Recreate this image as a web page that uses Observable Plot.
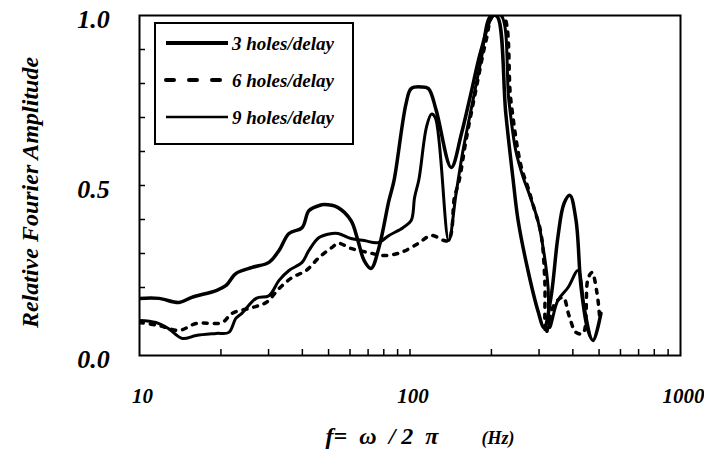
<!DOCTYPE html>
<html><head><meta charset="utf-8">
<script src="https://cdn.jsdelivr.net/npm/d3@7"></script>
<script src="https://cdn.jsdelivr.net/npm/@observablehq/plot@0.6"></script>
<style>body{margin:0;background:#fff}</style>
</head><body><div id="chart"></div>
<script>
// Series: 3 holes/delay
const freq3 = [10, 11.8, 14.0, 15.6, 19.2, 20.9, 22.7, 26.1, 30.1, 32.8, 35.7, 39.9, 42.3, 46.1, 48.1, 54.2, 60.5, 64.2, 67.7, 71.8, 76.8, 83.6, 87.3, 96.7, 101, 110, 117, 125, 142, 155, 168, 183, 203, 211, 226, 240, 251, 273, 297, 313, 332, 352, 371, 390, 411, 429, 455, 475, 508];
const amp3 = [0.168, 0.168, 0.156, 0.171, 0.191, 0.206, 0.241, 0.259, 0.274, 0.309, 0.359, 0.376, 0.426, 0.441, 0.444, 0.435, 0.397, 0.338, 0.279, 0.256, 0.318, 0.456, 0.515, 0.741, 0.785, 0.79, 0.785, 0.721, 0.553, 0.653, 0.771, 0.897, 1.0, 0.995, 0.712, 0.524, 0.397, 0.25, 0.132, 0.082, 0.171, 0.347, 0.447, 0.471, 0.397, 0.2, 0.074, 0.044, 0.124];
// Series: 6 holes/delay
const freq6 = [10, 11.8, 14.0, 16.2, 20.2, 22.0, 26.1, 29.4, 32.8, 36.6, 41.3, 46.1, 51.5, 54.2, 60.5, 70.0, 80.1, 92.6, 107, 120, 138, 146, 152, 161, 175, 191, 203, 221, 236, 257, 273, 287, 305, 315, 318, 340, 368, 387, 411, 436, 455, 471, 491, 503];
const amp6 = [0.097, 0.088, 0.074, 0.094, 0.097, 0.124, 0.141, 0.156, 0.197, 0.229, 0.25, 0.288, 0.318, 0.33, 0.315, 0.303, 0.294, 0.303, 0.329, 0.353, 0.338, 0.465, 0.515, 0.632, 0.779, 0.926, 1.0, 1.0, 0.75, 0.559, 0.494, 0.435, 0.359, 0.221, 0.065, 0.147, 0.171, 0.118, 0.068, 0.065, 0.226, 0.244, 0.185, 0.109];
// Series: 9 holes/delay
const freq9 = [10, 11.5, 12.8, 14.4, 16.2, 19.2, 21.4, 22.7, 23.9, 27.0, 30.1, 32.8, 35.7, 39.9, 42.3, 46.1, 51.5, 54.2, 60.5, 67.7, 76.2, 83.6, 94.2, 101, 104, 108, 115, 120, 124, 139, 148, 157, 168, 183, 199, 217, 232, 246, 262, 273, 297, 313, 324, 328, 352, 384, 418, 439, 462];
const amp9 = [0.103, 0.097, 0.079, 0.05, 0.059, 0.065, 0.068, 0.109, 0.124, 0.168, 0.176, 0.221, 0.25, 0.274, 0.309, 0.347, 0.359, 0.359, 0.344, 0.338, 0.332, 0.353, 0.376, 0.397, 0.465, 0.52, 0.671, 0.71, 0.70, 0.338, 0.476, 0.603, 0.721, 0.868, 1.0, 1.0, 0.75, 0.603, 0.524, 0.485, 0.397, 0.3, 0.2, 0.082, 0.162, 0.2, 0.25, 0.15, 0.06];

const seriesNames = ["3 holes/delay", "6 holes/delay", "9 holes/delay"];
const xTickLabels = [10, 100, 1000];
const xMinorTicks = [20, 30, 40, 50, 60, 70, 80, 90, 100, 200, 300, 400, 500, 600, 700, 800, 900];
const yTickLabels = [0, 0.5, 1.0];
const yMinorTicks = [0.1, 0.2, 0.3, 0.4, 0.5, 0.6, 0.7, 0.8, 0.9];
const xTitle = "f=\u00a0 \u03c9 \u00a0/ 2 \u00a0\u03c0";
const xUnit = "(Hz)";
const yTitle = "Relative Fourier Amplitude";

const toRows = (f, a) => f.map((x, i) => ({f: x, a: a[i]}));
const d3rows = toRows(freq3, amp3);
const d6rows = toRows(freq6, amp6);
const d9rows = toRows(freq9, amp9);

const font = "'Liberation Serif','Times New Roman',serif";

const chart = Plot.plot({
  width: 704, height: 468,
  marginLeft: 139, marginRight: 24, marginTop: 15, marginBottom: 113,
  x: {type: "log", domain: [10, 1000]},
  y: {domain: [0, 1]},
  style: {fontFamily: font, fontWeight: "bold", fontStyle: "italic", background: "white", color: "black"},
  marks: [
    Plot.axisX(xMinorTicks, {anchor: "bottom", tickSize: -6, tickFormat: () => "", label: null, strokeWidth: 1.5}),
    Plot.axisY(yMinorTicks, {anchor: "left", tickSize: -6, tickFormat: () => "", label: null, strokeWidth: 1.5}),
    Plot.line(d3rows, {x: "f", y: "a", stroke: "black", strokeWidth: 3.5, curve: "catmull-rom", clip: "frame"}),
    Plot.line(d9rows, {x: "f", y: "a", stroke: "black", strokeWidth: 3, curve: "catmull-rom", clip: "frame"}),
    Plot.line(d6rows, {x: "f", y: "a", stroke: "black", strokeWidth: 3.5, strokeDasharray: "4,7", strokeLinecap: "round", curve: "catmull-rom", clip: "frame"}),
    Plot.frame({stroke: "black", strokeWidth: 2}),
    Plot.text(xTickLabels, {x: d => d, text: d => String(d), frameAnchor: "bottom", textAnchor: "middle", dy: 47, dx: 3, fontSize: 21}),
    Plot.text(yTickLabels, {y: d => d, text: d => d.toFixed(1), frameAnchor: "left", dx: -46, dy: 4, textAnchor: "middle", fontSize: 26}),
    Plot.text([yTitle], {text: d => d, frameAnchor: "left", textAnchor: "middle", dx: -109, dy: 7, rotate: -90, fontSize: 24}),
    Plot.text([xTitle], {text: d => d, frameAnchor: "bottom", textAnchor: "middle", dx: -28, dy: 88, fontSize: 24}),
    Plot.text([xUnit], {text: d => d, frameAnchor: "bottom", textAnchor: "middle", dx: 88, dy: 88, fontSize: 18})
  ]
});

// In-plot legend box
const svg = d3.select(chart);
const lg = svg.append("g").attr("font-family", font).attr("font-weight", "bold")
  .attr("font-style", "italic").attr("text-anchor", "start");
lg.append("rect").attr("x", 155).attr("y", 23).attr("width", 198).attr("height", 121)
  .attr("fill", "white").attr("stroke", "black").attr("stroke-width", 2);
const legendStyles = [
  {w: 4, dash: null},
  {w: 4, dash: "8,15"},
  {w: 2.5, dash: null}
];
seriesNames.forEach((name, i) => {
  const y = 43 + i * 37;
  lg.append("line").attr("x1", 166).attr("x2", 228).attr("y1", y).attr("y2", y)
    .attr("stroke", "black").attr("stroke-width", legendStyles[i].w)
    .attr("stroke-dasharray", legendStyles[i].dash)
    .attr("stroke-linecap", legendStyles[i].dash ? "round" : "butt");
  lg.append("text").attr("x", 232).attr("y", y).attr("dy", "0.35em")
    .attr("text-anchor", "start").attr("font-size", 19).text(name);
});

document.getElementById("chart").appendChild(chart);
</script>
</body></html>
